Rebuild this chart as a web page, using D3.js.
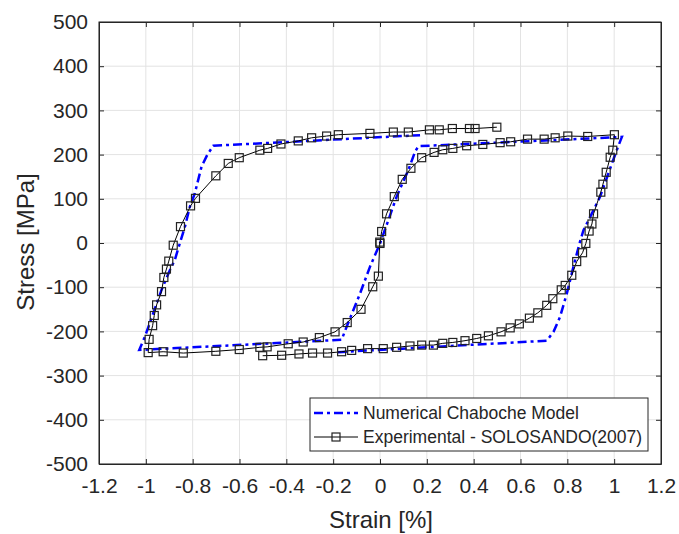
<!DOCTYPE html>
<html>
<head>
<meta charset="utf-8">
<script src="https://cdn.jsdelivr.net/npm/d3@7"></script>
<style>
  body { margin: 0; background: #fff; }
  svg text { font-family: "Liberation Sans", Arial, Helvetica, sans-serif; fill: #262626; }
</style>
</head>
<body>
<div id="chart"></div>
<script>
// experimental data, strain [%] and stress [MPa], in plotting order
const expStrain = [-0.501, -0.420, -0.346, -0.288, -0.224, -0.164, -0.121, -0.053, 0.014, 0.071, 0.128,
  0.178, 0.228, 0.268, 0.311, 0.363, 0.413, 0.463, 0.517, 0.556, 0.595, 0.638, 0.674, 0.712, 0.738,
  0.774, 0.791, 0.819, 0.840, 0.865, 0.879, 0.893, 0.905, 0.912, 0.943, 0.952, 0.966, 0.983, 0.994, 1.001,
  0.887, 0.802, 0.748, 0.701, 0.630, 0.558, 0.513, 0.439, 0.370, 0.311, 0.268, 0.231, 0.178, 0.132,
  0.095, 0.061, 0.028, 0.007, 0.000, -0.001, -0.007, -0.031, -0.081, -0.140, -0.192,
  -0.259, -0.328, -0.392, -0.482, -0.513, -0.601, -0.701, -0.840, -0.926, -0.990,
  -0.986, -0.971, -0.964, -0.954, -0.933, -0.923, -0.912, -0.902, -0.883, -0.852, -0.809, -0.788,
  -0.701, -0.648, -0.601, -0.513, -0.480, -0.423, -0.349, -0.292, -0.228, -0.178, -0.043,
  0.057, 0.121, 0.211, 0.253, 0.309, 0.382, 0.406, 0.499];
const expStress = [-255, -254, -251, -249, -249, -246, -243, -239, -239, -236, -233,
  -231, -231, -227, -225, -221, -216, -210, -201, -192, -183, -170, -158, -141, -126,
  -106, -96, -73, -42, -22, -1, 27, 43, 66, 115, 133, 160, 194, 210, 245,
  241, 242, 238, 235, 235, 229, 227, 223, 220, 214, 211, 205, 193, 169,
  144, 105, 66, 26, -1, 2, -75, -99, -150, -180, -201,
  -214, -224, -228, -235, -236, -241, -245, -249, -246, -248,
  -218, -187, -164, -140, -110, -78, -59, -41, -5, 37, 84, 101,
  152, 180, 193, 210, 214, 224, 231, 238, 242, 245, 248,
  251, 251, 256, 256, 259, 259, 259, 262];

// numerical Chaboche model
const modelStrain = [-0.18, 0.712, 0.741, 0.769, 0.798, 0.826, 0.852, 0.869, 0.905, 0.940, 1.011, 1.033,
  0.164, 0.150, 0.121, 0.071, 0.036, 0.000, -0.043, -0.085, -0.142, -0.164,
  -1.028, -1.004, -0.933, -0.897, -0.876, -0.855, -0.833, -0.812, -0.791, -0.762, -0.738, -0.712, 0.171];
const modelStress = [-247, -221, -201, -167, -114, -54, -1, 29, 67, 105, 210, 240,
  219, 207, 165, 105, 52, -1, -54, -114, -189, -219,
  -242, -212, -106, -61, -38, -1, 37, 82, 112, 173, 199, 220, 244];

const xTicks = [-1.2, -1, -0.8, -0.6, -0.4, -0.2, 0, 0.2, 0.4, 0.6, 0.8, 1, 1.2];
const yTicks = [-500, -400, -300, -200, -100, 0, 100, 200, 300, 400, 500];
const seriesNames = ["Numerical Chaboche Model", "Experimental - SOLOSANDO(2007)"];

var W = 679, H = 534;
var margin = {top: 22, right: 18, bottom: 70, left: 99},
    width = W - margin.left - margin.right,
    height = H - margin.top - margin.bottom;

var svg = d3.select("#chart").append("svg")
  .attr("width", W).attr("height", H);
var g = svg.append("g").attr("transform", "translate(" + margin.left + "," + margin.top + ")");

var x = d3.scaleLinear().domain([-1.2, 1.2]).range([0, width]);
var y = d3.scaleLinear().domain([-500, 500]).range([height, 0]);

// grid
g.append("g").selectAll("line").data(xTicks).enter().append("line")
  .attr("x1", d => x(d)).attr("x2", d => x(d)).attr("y1", 0).attr("y2", height)
  .attr("stroke", "#e3e3e3").attr("stroke-width", 1);
g.append("g").selectAll("line").data(yTicks).enter().append("line")
  .attr("y1", d => y(d)).attr("y2", d => y(d)).attr("x1", 0).attr("x2", width)
  .attr("stroke", "#e3e3e3").attr("stroke-width", 1);

// axes
var fmt = d => String(d).replace("−", "-");
g.append("g").attr("transform", "translate(0," + height + ")")
  .call(d3.axisBottom(x).tickValues(xTicks).tickSizeInner(-5).tickSizeOuter(0).tickPadding(14).tickFormat(fmt));
g.append("g")
  .call(d3.axisLeft(y).tickValues(yTicks).tickSizeInner(-5).tickSizeOuter(0).tickPadding(11).tickFormat(fmt));
// top / right ticks
g.append("g").call(d3.axisTop(x).tickValues(xTicks).tickSizeInner(-5).tickSizeOuter(0).tickFormat(""));
g.append("g").attr("transform", "translate(" + width + ",0)")
  .call(d3.axisRight(y).tickValues(yTicks).tickSizeInner(-5).tickSizeOuter(0).tickFormat(""));

svg.selectAll(".domain").attr("stroke", "#262626");
svg.selectAll(".tick line").attr("stroke", "#262626");
svg.selectAll(".tick text").style("font-size", "21px").attr("fill", "#262626");

g.append("rect").attr("width", width).attr("height", height)
  .attr("fill", "none").attr("stroke", "#262626").attr("stroke-width", 1);

// model line
var modelData = modelStrain.map((s, i) => [s, modelStress[i]]);
var expData = expStrain.map((s, i) => [s, expStress[i]]);
var line = d3.line().x(d => x(d[0])).y(d => y(d[1]));

g.append("path").datum(modelData).attr("d", line)
  .attr("fill", "none").attr("stroke", "#0000ff").attr("stroke-width", 2.5)
  .attr("stroke-dasharray", "9,4,3,4");

g.append("path").datum(expData).attr("d", line)
  .attr("fill", "none").attr("stroke", "#000").attr("stroke-width", 1);

g.selectAll(".sq").data(expData).enter().append("rect")
  .attr("class", "sq")
  .attr("x", d => x(d[0]) - 4).attr("y", d => y(d[1]) - 4)
  .attr("width", 8).attr("height", 8)
  .attr("fill", "none").attr("stroke", "#222").attr("stroke-width", 1.2);

// axis labels
svg.append("text").attr("x", margin.left + width / 2 + 1).attr("y", 528)
  .attr("text-anchor", "middle").style("font-size", "24px").text("Strain [%]");
svg.append("text").attr("transform", "translate(34," + (margin.top + height / 2 - 1) + ") rotate(-90)")
  .attr("text-anchor", "middle").style("font-size", "24px").text("Stress [MPa]");

// legend
var lg = svg.append("g").attr("transform", "translate(310,398)");
lg.append("rect").attr("width", 338).attr("height", 53)
  .attr("fill", "#fff").attr("stroke", "#262626").attr("stroke-width", 1);
lg.append("line").attr("x1", 4).attr("x2", 48).attr("y1", 15).attr("y2", 15)
  .attr("stroke", "#0000ff").attr("stroke-width", 2.5).attr("stroke-dasharray", "9,4,3,4");
lg.append("line").attr("x1", 4).attr("x2", 48).attr("y1", 39).attr("y2", 39)
  .attr("stroke", "#000").attr("stroke-width", 1);
lg.append("rect").attr("x", 22).attr("y", 35).attr("width", 8).attr("height", 8)
  .attr("fill", "none").attr("stroke", "#222").attr("stroke-width", 1.2);
lg.selectAll(".lt").data(seriesNames).enter().append("text")
  .attr("x", 53).attr("y", (d, i) => 15 + i * 24).attr("dy", "0.35em")
  .style("font-size", "17.5px").text(d => d);
</script>
</body>
</html>
